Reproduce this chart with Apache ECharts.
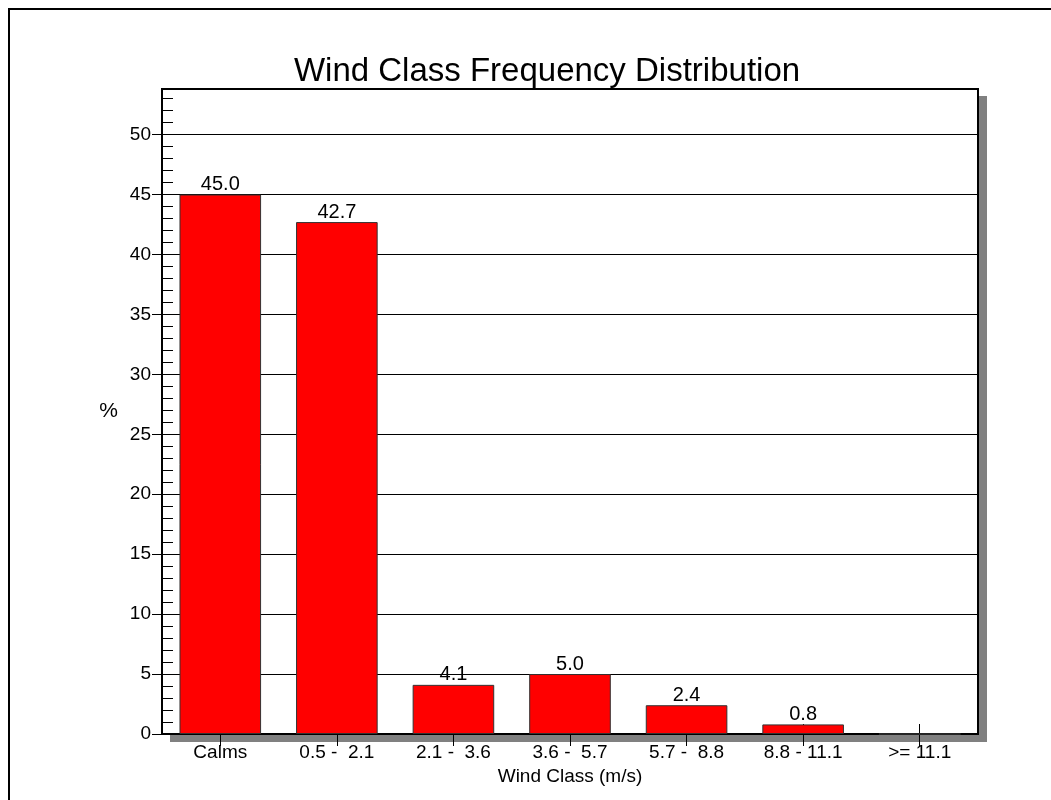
<!DOCTYPE html>
<html>
<head>
<meta charset="utf-8">
<script src="https://cdn.jsdelivr.net/npm/echarts@6/dist/echarts.min.js"></script>
<style>
html,body{margin:0;padding:0;background:#fff;}
#chart{width:1051px;height:800px;}
</style>
</head>
<body>
<div id="chart"></div>
<script>
const categories = ['Calms', '0.5 -  2.1', '2.1 -  3.6', '3.6 -  5.7', '5.7 -  8.8', '8.8 - 11.1', '>= 11.1'];
const frequencies = [45.0, 42.7, 4.1, 5.0, 2.4, 0.8, 0];
const majorTicks = [0, 5, 10, 15, 20, 25, 30, 35, 40, 45, 50];
const minorTicks = [0,1,2,3,4,5,6,7,8,9,10,11,12,13,14,15,16,17,18,19,20,21,22,23,24,25,26,27,28,29,30,31,32,33,34,35,36,37,38,39,40,41,42,43,44,45,46,47,48,49,50,51,52,53];
const titleText = 'Wind Class Frequency Distribution';
const xName = 'Wind Class (m/s)';
const yName = '%';

const FONT = 'Liberation Sans, Arial, sans-serif';
const chart = echarts.init(document.getElementById('chart'), null, {renderer: 'canvas'});
const yMax = 53.8;

chart.setOption({
  backgroundColor: '#ffffff',
  animation: false,
  title: {
    text: titleText,
    left: 542,
    textAlign: 'center',
    top: 50,
    textStyle: {fontFamily: FONT, fontSize: 33, fontWeight: 'normal', color: '#000'}
  },
  graphic: [
    {type: 'rect', z: -10, shape: {x: 9, y: 9, width: 1080, height: 830}, style: {fill: null, stroke: '#000', lineWidth: 2}},
    {type: 'rect', z: -10, shape: {x: 170, y: 96, width: 817, height: 646}, style: {fill: '#808080'}}
  ],
  grid: {
    left: 162, top: 89, right: 73, bottom: 66,
    show: true, backgroundColor: '#ffffff', borderColor: '#000', borderWidth: 2,
    containLabel: false
  },
  xAxis: [
    {
      type: 'category', data: categories, position: 'bottom',
      name: xName, nameLocation: 'middle', nameGap: 30,
      nameTextStyle: {fontFamily: FONT, fontSize: 19, color: '#000'},
      axisLine: {show: true, lineStyle: {color: '#000', width: 2}},
      axisTick: {show: true, alignWithLabel: true, length: 12, inside: false, lineStyle: {color: '#000', width: 1}},
      axisLabel: {fontFamily: FONT, fontSize: 19, color: '#000', margin: 9, interval: 0},
      splitLine: {show: false}
    },
    {
      type: 'category', data: categories, position: 'bottom',
      axisLine: {show: false},
      axisTick: {show: true, alignWithLabel: true, length: 10, inside: true, lineStyle: {color: '#000', width: 1}},
      axisLabel: {show: false},
      splitLine: {show: false}
    }
  ],
  yAxis: [
    {
      type: 'value', min: 0, max: yMax, interval: 5, position: 'left',
      name: yName, nameLocation: 'middle', nameGap: 44, nameRotate: 0,
      nameTextStyle: {fontFamily: FONT, fontSize: 21, color: '#000'},
      axisLine: {show: true, lineStyle: {color: '#000', width: 2}},
      axisTick: {show: true, inside: false, length: 10, customValues: majorTicks, lineStyle: {color: '#000', width: 1}},
      axisLabel: {fontFamily: FONT, fontSize: 19, color: '#000', margin: 11, customValues: majorTicks},
      splitLine: {show: true, lineStyle: {color: '#000', width: 1}}
    },
    {
      type: 'value', min: 0, max: yMax, interval: 1, position: 'left',
      axisLine: {show: false},
      axisTick: {show: true, inside: true, length: 11, customValues: minorTicks, lineStyle: {color: '#000', width: 1}},
      axisLabel: {show: false},
      splitLine: {show: false}
    }
  ],
  series: [
    {
      type: 'bar', xAxisIndex: 0, yAxisIndex: 0,
      data: frequencies,
      barWidth: '70%',
      itemStyle: {color: '#ff0000', borderColor: '#333', borderWidth: 1},
      label: {
        show: true, position: 'top', distance: 0,
        fontFamily: FONT, fontSize: 20, color: '#000',
        formatter: p => p.value > 0 ? p.value.toFixed(1) : ''
      },
      z: 5
    }
  ]
});
</script>
</body>
</html>
